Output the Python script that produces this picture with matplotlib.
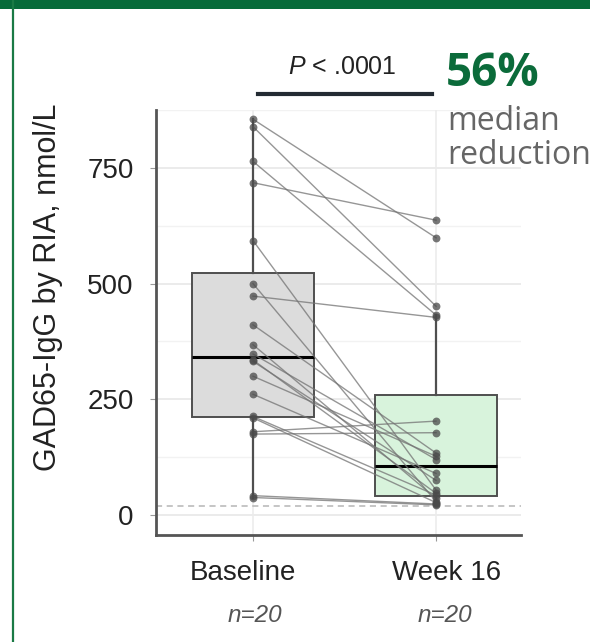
import matplotlib
matplotlib.use("Agg")
import matplotlib.pyplot as plt
from matplotlib.lines import Line2D
from matplotlib.patches import Rectangle

plt.rcParams["mathtext.fontset"] = "custom"
plt.rcParams["mathtext.rm"] = "Liberation Sans"
plt.rcParams["mathtext.it"] = "Liberation Sans:italic"

# ---- data ----
categories = ["Baseline", "Week 16"]
n_labels = ["n=20", "n=20"]
baseline = [855, 839, 764, 718, 593, 500, 473, 411, 368, 348,
            335, 332, 300, 261, 213, 210, 180, 175, 42, 38]
week16 = [599, 451, 432, 637, 54, 29, 427, 134, 36, 120,
          47, 75, 127, 90, 43, 27, 203, 178, 24, 22]
yticks = [0, 250, 500, 750]
minor_yticks = [125, 375, 625, 875]
detection_limit = 20
p_text = r"$\it{P}$ < .0001"
pct_text = "56%"
pct_sub = ["median", "reduction"]

W, H = 590, 642
fig = plt.figure(figsize=(W / 100, H / 100), dpi=100)
fig.patch.set_facecolor("white")

ax = fig.add_axes([156 / W, 1 - 535 / H, (521 - 156) / W, (535 - 110) / H])
ax.set_xlim(-0.53, 1.464)
ax.set_ylim(-43, 875)

# grid
for y in yticks:
    ax.axhline(y, color="#e8e8e8", lw=1.2, zorder=0)
for y in minor_yticks:
    ax.axhline(y, color="#f2f2f2", lw=1.0, zorder=0)
for x in [0, 1]:
    ax.axvline(x, color="#ececec", lw=1.2, zorder=0)
ax.axhline(detection_limit, color="#b5b5b5", lw=1.1, ls=(0, (4, 3)), zorder=1)

fills = ["#dcdcdc", "#d8f3dc"]
whis_list = [1.5, (0, 85)]
for i, (data, fc, wh) in enumerate(zip([baseline, week16], fills, whis_list)):
    ax.boxplot([data], positions=[i], widths=0.67, patch_artist=True,
               showfliers=False, whis=wh,
               boxprops=dict(facecolor=fc, edgecolor="#4f4f4f", linewidth=1.4),
               whiskerprops=dict(color="#4f4f4f", linewidth=1.6),
               capprops=dict(linewidth=0),
               medianprops=dict(color="black", linewidth=2.2),
               zorder=2)

for b, w in zip(baseline, week16):
    ax.plot([0, 1], [b, w], color="#737373", lw=1.0, alpha=0.75, zorder=3)
ax.scatter([0] * len(baseline), baseline, s=32, color="#4a4a4a", alpha=0.75,
           zorder=4, linewidths=0)
ax.scatter([1] * len(week16), week16, s=32, color="#4a4a4a", alpha=0.75,
           zorder=4, linewidths=0)

for s in ["top", "right"]:
    ax.spines[s].set_visible(False)
for s in ["left", "bottom"]:
    ax.spines[s].set_color("#555555")
    ax.spines[s].set_linewidth(2)

ax.set_yticks(yticks)
ax.set_yticklabels([str(v) for v in yticks], fontsize=20,
                   family="Liberation Sans", color="#222222")
ax.set_xticks([0, 1])
ax.set_xticklabels([])
ax.tick_params(axis="y", length=4, color="#999999", pad=12)
ax.tick_params(axis="x", length=4, color="#999999")
ax.set_ylabel("GAD65-IgG by RIA, nmol/L", fontsize=22,
              family="Liberation Sans", color="#222222")
ax.yaxis.set_label_coords(-0.255, 0.584)

xt = ax.get_xaxis_transform()
label_shift = [-0.055, 0.06]
n_shift = [0.01, 0.05]
for i, (c, t) in enumerate(zip(categories, n_labels)):
    ax.text(i + label_shift[i], -0.09, c, transform=xt, ha="center",
            va="center", fontsize=20, family="Liberation Sans",
            color="#222222")
    ax.text(i + n_shift[i], -0.19, t, transform=xt,
            ha="center", va="center", fontsize=17.5, style="italic",
            family="Liberation Sans", color="#555555")

# annotations above
fig.add_artist(Line2D([258 / W, 432 / W], [1 - 94 / H, 1 - 94 / H],
                      color="#232b33", lw=3))
fig.text(342 / W, 1 - 67 / H, p_text,
         ha="center", va="center", fontsize=18, family="Liberation Sans",
         color="#222222")
fig.text(446 / W, 1 - 74 / H, pct_text, ha="left", va="center",
         fontsize=33, fontweight="bold", family="Open Sans", color="#0b6b3a")
fig.text(447 / W, 1 - 121 / H, pct_sub[0], ha="left", va="center",
         fontsize=23, family="Open Sans", color="#666666")
fig.text(447 / W, 1 - 155 / H, pct_sub[1], ha="left", va="center",
         fontsize=23, family="Open Sans", color="#666666")

# frame
fig.add_artist(Rectangle((0, 1 - 9 / H), 1, 9 / H, transform=fig.transFigure,
                         color="#076b3a", lw=0))
fig.add_artist(Line2D([13 / W, 13 / W], [0, 1], color="#1a7a45", lw=1.6))

fig.savefig("out.png", dpi=100)
